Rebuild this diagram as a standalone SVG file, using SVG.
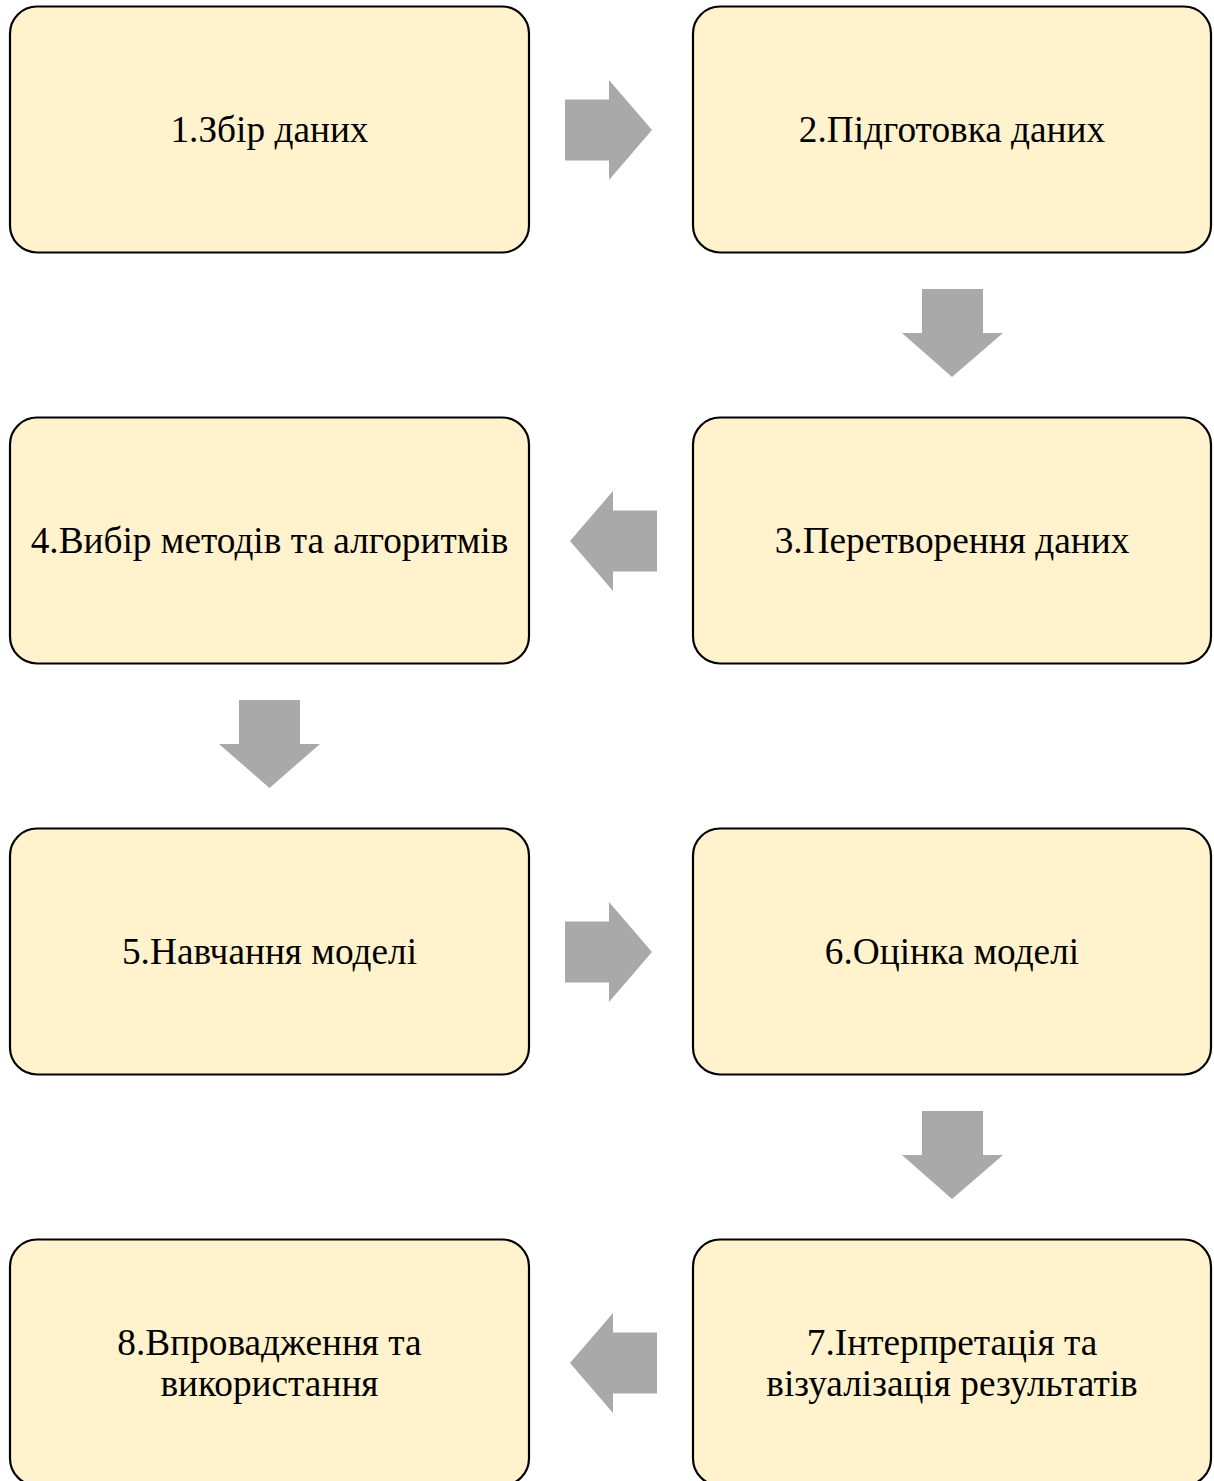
<svg xmlns="http://www.w3.org/2000/svg" width="1214" height="1481" viewBox="0 0 1214 1481">
  <style>
    .box { fill: #FFF2CC; stroke: #000000; stroke-width: 2.2; }
    .lbl { font-family: "Liberation Serif", "Times New Roman", serif; font-size: 37.3px; fill: #000000; text-anchor: middle; }
    .arrow { fill: #A9A9A9; stroke: none; }
  </style>
  <rect width="1214" height="1481" fill="#FFFFFF"/>

  <!-- process steps -->
  <g id="step1">
    <rect class="box" x="10" y="6.5" width="519" height="246" rx="27" ry="27"/>
    <text class="lbl" x="269.5" y="141.7">1.Збір даних</text>
  </g>
  <g id="step2">
    <rect class="box" x="693" y="6.5" width="518" height="246" rx="27" ry="27"/>
    <text class="lbl" x="952" y="141.7">2.Підготовка даних</text>
  </g>
  <g id="step3">
    <rect class="box" x="693" y="417.5" width="518" height="246" rx="27" ry="27"/>
    <text class="lbl" x="952" y="552.7">3.Перетворення даних</text>
  </g>
  <g id="step4">
    <rect class="box" x="10" y="417.5" width="519" height="246" rx="27" ry="27"/>
    <text class="lbl" x="269.5" y="552.7">4.Вибір методів та алгоритмів</text>
  </g>
  <g id="step5">
    <rect class="box" x="10" y="828.5" width="519" height="246" rx="27" ry="27"/>
    <text class="lbl" x="269.5" y="963.7">5.Навчання моделі</text>
  </g>
  <g id="step6">
    <rect class="box" x="693" y="828.5" width="518" height="246" rx="27" ry="27"/>
    <text class="lbl" x="952" y="963.7">6.Оцінка моделі</text>
  </g>
  <g id="step7">
    <rect class="box" x="693" y="1239.5" width="518" height="246" rx="27" ry="27"/>
    <text class="lbl" x="952" y="1355">7.Інтерпретація та</text>
    <text class="lbl" x="952" y="1396">візуалізація результатів</text>
  </g>
  <g id="step8">
    <rect class="box" x="10" y="1239.5" width="519" height="246" rx="27" ry="27"/>
    <text class="lbl" x="269.5" y="1355">8.Впровадження та</text>
    <text class="lbl" x="269.5" y="1396">використання</text>
  </g>

  <!-- block arrows between steps -->
  <g id="connectors">
    <path class="arrow" d="M565,99.5 H609 V80 L652,130 L609,180 V160.5 H565 Z"/>
    <path class="arrow" d="M922,289 H983 V333 H1003 L952,377 L902,333 H922 Z"/>
    <path class="arrow" d="M657,510.5 H613 V491 L570,541 L613,591 V571.5 H657 Z"/>
    <path class="arrow" d="M239,700 H300 V744 H320 L269.5,788 L219,744 H239 Z"/>
    <path class="arrow" d="M565,921.5 H609 V902 L652,952 L609,1002 V982.5 H565 Z"/>
    <path class="arrow" d="M922,1111 H983 V1155 H1003 L952,1199 L902,1155 H922 Z"/>
    <path class="arrow" d="M657,1332.5 H613 V1313 L570,1363 L613,1413 V1393.5 H657 Z"/>
  </g>
</svg>
